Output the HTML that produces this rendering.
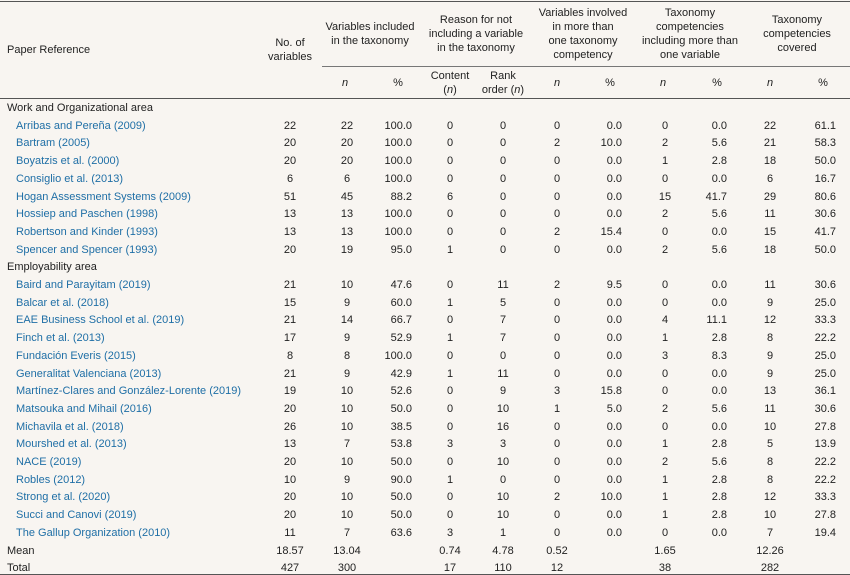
<!DOCTYPE html>
<html><head><meta charset="utf-8">
<style>
body{margin:0;background:#f8f5f1;}
#t{position:relative;width:850px;height:575px;overflow:hidden;font-family:"Liberation Sans",sans-serif;font-size:11px;color:#222;background:#f8f5f1;}
#t div{position:absolute;white-space:nowrap;line-height:14px;}
.c{transform:translateX(-50%);text-align:center;}
.r{transform:translateX(-100%);}
.line{height:1px;background:#555;}
.blue{color:#1f6fa6;}
i{font-style:italic;}
</style></head><body>
<div id="t">
<div class="line" style="left:0;top:1px;width:850px"></div>
<div class="line" style="left:322px;top:66px;width:528px;background:#777"></div>
<div class="line" style="left:0;top:98px;width:850px"></div>
<div class="line" style="left:0;top:574px;width:850px"></div>
<div style="left:7px;top:43px">Paper Reference</div>
<div class="c" style="left:290px;top:36px">No. of<br>variables</div>
<div class="c" style="left:370px;top:20px">Variables included<br>in the taxonomy</div>
<div class="c" style="left:476px;top:13px">Reason for not<br>including a variable<br>in the taxonomy</div>
<div class="c" style="left:583px;top:6px">Variables involved<br>in more than<br>one taxonomy<br>competency</div>
<div class="c" style="left:690px;top:6px">Taxonomy<br>competencies<br>including more than<br>one variable</div>
<div class="c" style="left:797px;top:13px">Taxonomy<br>competencies<br>covered</div>
<div class="c" style="left:345px;top:76px"><i>n</i></div>
<div class="c" style="left:398px;top:76px">%</div>
<div class="c" style="left:450px;top:69px">Content<br>(<i>n</i>)</div>
<div class="c" style="left:503px;top:69px">Rank<br>order (<i>n</i>)</div>
<div class="c" style="left:557px;top:76px"><i>n</i></div>
<div class="c" style="left:610px;top:76px">%</div>
<div class="c" style="left:663px;top:76px"><i>n</i></div>
<div class="c" style="left:717px;top:76px">%</div>
<div class="c" style="left:770px;top:76px"><i>n</i></div>
<div class="c" style="left:823px;top:76px">%</div>
</div>
<script>
const rows = [
["g","Work and Organizational area"],
["Arribas and Pereña (2009)","22","22","100.0","0","0","0","0.0","0","0.0","22","61.1"],
["Bartram (2005)","20","20","100.0","0","0","2","10.0","2","5.6","21","58.3"],
["Boyatzis et al. (2000)","20","20","100.0","0","0","0","0.0","1","2.8","18","50.0"],
["Consiglio et al. (2013)","6","6","100.0","0","0","0","0.0","0","0.0","6","16.7"],
["Hogan Assessment Systems (2009)","51","45","88.2","6","0","0","0.0","15","41.7","29","80.6"],
["Hossiep and Paschen (1998)","13","13","100.0","0","0","0","0.0","2","5.6","11","30.6"],
["Robertson and Kinder (1993)","13","13","100.0","0","0","2","15.4","0","0.0","15","41.7"],
["Spencer and Spencer (1993)","20","19","95.0","1","0","0","0.0","2","5.6","18","50.0"],
["g","Employability area"],
["Baird and Parayitam (2019)","21","10","47.6","0","11","2","9.5","0","0.0","11","30.6"],
["Balcar et al. (2018)","15","9","60.0","1","5","0","0.0","0","0.0","9","25.0"],
["EAE Business School et al. (2019)","21","14","66.7","0","7","0","0.0","4","11.1","12","33.3"],
["Finch et al. (2013)","17","9","52.9","1","7","0","0.0","1","2.8","8","22.2"],
["Fundación Everis (2015)","8","8","100.0","0","0","0","0.0","3","8.3","9","25.0"],
["Generalitat Valenciana (2013)","21","9","42.9","1","11","0","0.0","0","0.0","9","25.0"],
["Martínez-Clares and González-Lorente (2019)","19","10","52.6","0","9","3","15.8","0","0.0","13","36.1"],
["Matsouka and Mihail (2016)","20","10","50.0","0","10","1","5.0","2","5.6","11","30.6"],
["Michavila et al. (2018)","26","10","38.5","0","16","0","0.0","0","0.0","10","27.8"],
["Mourshed et al. (2013)","13","7","53.8","3","3","0","0.0","1","2.8","5","13.9"],
["NACE (2019)","20","10","50.0","0","10","0","0.0","2","5.6","8","22.2"],
["Robles (2012)","10","9","90.0","1","0","0","0.0","1","2.8","8","22.2"],
["Strong et al. (2020)","20","10","50.0","0","10","2","10.0","1","2.8","12","33.3"],
["Succi and Canovi (2019)","20","10","50.0","0","10","0","0.0","1","2.8","10","27.8"],
["The Gallup Organization (2010)","11","7","63.6","3","1","0","0.0","0","0.0","7","19.4"],
["s","Mean","18.57","13.04","","0.74","4.78","0.52","","1.65","","12.26",""],
["s","Total","427","300","","17","110","12","","38","","282",""]
];
const colX = [290,347,412,450,503,557,622,665,727,770,836];
const colAlign = ["c","c","r","c","c","c","r","c","r","c","r"];
const t = document.getElementById('t');
rows.forEach((row,i)=>{
  const y = 101 + i*17.7;
  let label, vals, cls='';
  if(row[0]==='g'){label=row[1];vals=[];}
  else if(row[0]==='s'){label=row[1];vals=row.slice(2);}
  else {label=row[0];vals=row.slice(1);cls='blue';}
  const l=document.createElement('div');
  
  
  l.className=cls;
  l.style.left=(cls?16:7)+'px';l.style.top=y+'px';l.textContent=label;t.appendChild(l);
  vals.forEach((v,j)=>{
    if(v==='')return;
    const d=document.createElement('div');
    
    
    d.className=colAlign[j];
    d.style.left=colX[j]+'px';d.style.top=y+'px';d.textContent=v;t.appendChild(d);
  });
});
</script>
</body></html>
